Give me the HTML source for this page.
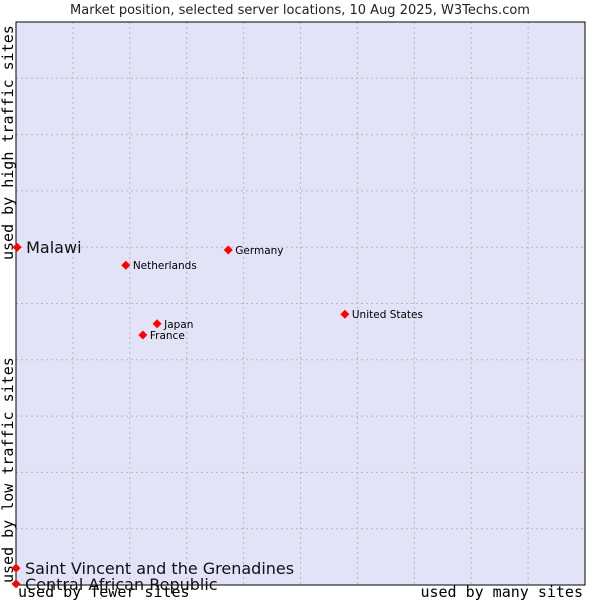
<!DOCTYPE html>
<html><head><meta charset="utf-8"><style>
body{margin:0;background:#fff;width:600px;height:600px;overflow:hidden}
svg text{font-family:"DejaVu Sans","Liberation Sans",sans-serif}
.mono{font-family:"DejaVu Sans Mono","Liberation Mono",monospace;font-size:15px}
</style></head><body>
<svg id="c" width="600" height="600"></svg>
<script>
const names=["Malawi","Netherlands","Germany","United States","Japan","France","Saint Vincent and the Grenadines","Central African Republic"];
const xVals=[0.2,19.3,37.3,57.8,24.8,22.3,0,0];
const yVals=[60.0,56.8,59.5,48.1,46.4,44.4,3.0,0.2];
const highlighted=[true,false,false,false,false,false,true,true];
const L=16,R=585,T=22,B=585;
const sx=v=>L+v/100*(R-L), sy=v=>B-v/100*(B-T);
const s=document.getElementById('c'),NS="http://www.w3.org/2000/svg";
function mk(t,a,txt){const e=document.createElementNS(NS,t);for(const k in a)e.setAttribute(k,a[k]);if(txt!=null)e.textContent=txt;s.appendChild(e);return e;}
let e=mk('rect',{x:L,y:T,width:R-L,height:B-T,fill:'#e3e3f7'});


for(let i=1;i<10;i++){
 e=mk('line',{x1:sx(i*10),x2:sx(i*10),y1:T,y2:B,stroke:'#b8b8b8','stroke-dasharray':'2,3'});
 
 
 e=mk('line',{x1:L,x2:R,y1:sy(i*10),y2:sy(i*10),stroke:'#b8b8b8','stroke-dasharray':'2,3'});
 
 
}
e=mk('rect',{x:L,y:T,width:R-L,height:B-T,fill:'none',stroke:'#000','stroke-width':1});


e=mk('text',{x:300,y:14,'text-anchor':'middle','font-size':13,fill:'#222'},'Market position, selected server locations, 10 Aug 2025, W3Techs.com');


e=mk('text',{x:18,y:597,class:'mono'},'used by fewer sites');


e=mk('text',{x:583,y:597,class:'mono','text-anchor':'end'},'used by many sites');


e=mk('text',{x:13,y:583,class:'mono',transform:'rotate(-90 13 583)'},'used by low traffic sites');


e=mk('text',{x:13,y:260,class:'mono',transform:'rotate(-90 13 260)'},'used by high traffic sites');


names.forEach((n,i)=>{
 const x=sx(xVals[i]),y=sy(yVals[i]);
 const p=mk('path',{d:`M${x-4.5},${y}L${x},${y-4.5}L${x+4.5},${y}L${x},${y+4.5}Z`,fill:'#f00'});
 
 
 const t=highlighted[i]?mk('text',{x:x+9,y:y+6,'font-size':16,fill:'#111'},n):mk('text',{x:x+7,y:y+4,'font-size':10.5,fill:'#000'},n);
 
 
});
</script>
</body></html>
